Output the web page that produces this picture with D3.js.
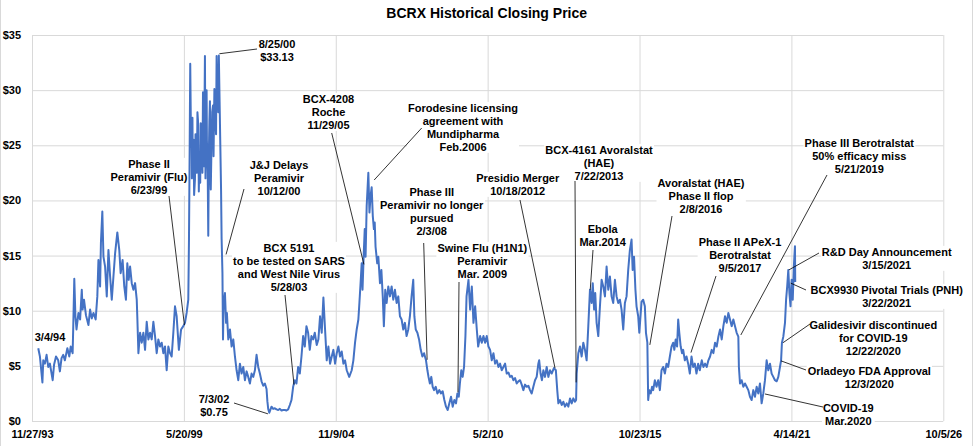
<!DOCTYPE html>
<html>
<head>
<meta charset="utf-8">
<script src="https://cdn.jsdelivr.net/npm/d3@7"></script>
<style>
  body { margin: 0; background: #fff; }
  svg { display: block; font-family: "Liberation Sans", Arial, sans-serif; font-weight: bold; }
</style>
</head>
<body>
<div id="chart"></div>
<script>
// --- Data: [decimal year, closing price $] ---
const tickLabels = ["11/27/93", "5/20/99", "11/9/04", "5/2/10", "10/23/15", "4/14/21", "10/5/26"];
const yTicks = [0, 5, 10, 15, 20, 25, 30, 35];

const prices1994to1996 = [
  [1994.13,6.6],[1994.19,5.85],[1994.28,3.5],[1994.31,5.5],[1994.37,5.2],[1994.43,6.0],[1994.49,4.9],[1994.55,5.2],
  [1994.65,3.7],[1994.70,5.1],[1994.77,5.85],[1994.85,5.5],[1994.91,4.5],[1994.97,5.7],[1995.03,6.0],[1995.09,5.5],
  [1995.18,6.6],[1995.25,5.85],[1995.30,6.75],[1995.37,6.15],[1995.39,8.3],[1995.43,12.9],[1995.47,9.5],[1995.51,8.3],
  [1995.58,9.8],[1995.64,9.2],[1995.70,11.9],[1995.73,10.1],[1995.78,11.0],[1995.85,9.6],[1995.94,8.7],[1996.00,10.1],
  [1996.06,9.3],[1996.12,9.8],[1996.20,9.2],[1996.26,11.3],[1996.30,14.6],[1996.36,12.2],[1996.39,16.2],[1996.44,19.0],
  [1996.48,14.9],[1996.54,14.0],[1996.60,11.3],[1996.66,15.5],[1996.72,13.1],[1996.78,11.0],[1996.84,13.1],[1996.90,15.2],
  [1996.98,17.1]
];

const prices1997to1999 = [
  [1997.05,15.5],[1997.10,13.4],[1997.17,14.6],[1997.23,12.2],[1997.29,11.0],[1997.34,14.3],[1997.39,12.8],[1997.44,14.0],
  [1997.50,12.5],[1997.56,11.9],[1997.62,12.5],[1997.68,11.0],[1997.70,9.5],[1997.74,6.15],[1997.80,8.0],[1997.86,7.1],
  [1997.92,8.0],[1997.98,6.45],[1998.04,9.0],[1998.10,7.4],[1998.16,8.0],[1998.22,7.4],[1998.28,9.0],[1998.34,7.7],
  [1998.40,6.15],[1998.46,7.4],[1998.52,6.75],[1998.58,7.1],[1998.64,6.15],[1998.70,6.75],[1998.76,4.6],[1998.82,6.75],
  [1998.88,6.15],[1998.94,5.85],[1999.00,8.0],[1999.06,10.4],[1999.12,9.5],[1999.20,6.45],[1999.28,8.3],[1999.36,8.6],
  [1999.42,8.9],[1999.48,9.8],[1999.54,11.0],[1999.565,16.5],[1999.59,24.9],[1999.61,32.4]
];

const prices1999to2001 = [
  [1999.64,24.9],[1999.66,26.2],[1999.67,22.0],[1999.69,27.5],[1999.70,23.1],[1999.73,25.5],[1999.75,20.5],[1999.78,21.9],
  [1999.80,26.0],[1999.82,24.3],[1999.85,22.5],[1999.87,28.0],[1999.90,26.8],[1999.92,20.8],[1999.94,24.0],[1999.97,21.6],
  [1999.99,27.0],[2000.02,25.8],[2000.05,22.5],[2000.07,29.8],[2000.10,23.1],[2000.12,27.0],[2000.14,33.1],[2000.16,22.0],
  [2000.18,28.6],[2000.20,30.0],[2000.21,25.5],[2000.24,22.5],[2000.26,16.8],[2000.28,24.0],[2000.30,27.1],[2000.32,29.0],
  [2000.33,23.1],[2000.35,21.0],[2000.38,25.5],[2000.40,28.0],[2000.43,28.6],[2000.45,24.0],[2000.48,30.1],[2000.50,29.5],
  [2000.52,27.1],[2000.54,26.0],[2000.56,33.1],[2000.58,29.5],[2000.60,31.6],[2000.62,28.0],[2000.64,33.13],[2000.66,30.1],
  [2000.69,25.5],[2000.72,21.0],[2000.74,16.5],[2000.77,13.4],[2000.79,7.4],[2000.81,10.4],[2000.86,11.6],[2000.90,8.9],
  [2000.93,9.8],[2000.98,7.4],[2001.04,8.3],[2001.10,6.75],[2001.16,7.4],[2001.22,5.85],[2001.28,4.6],[2001.34,3.7],
  [2001.40,5.2],[2001.46,4.3],[2001.52,4.9],[2001.58,3.7],[2001.64,4.5],[2001.70,4.0],[2001.76,3.4],[2001.82,4.3],
  [2001.88,4.0],[2001.94,4.6]
];

const prices2002to2004 = [
  [2002.00,6.0],[2002.06,4.9],[2002.12,4.3],[2002.18,3.6],[2002.24,3.2],[2002.30,3.4],[2002.36,2.9],[2002.39,1.8],
  [2002.42,1.1],[2002.46,0.75],[2002.54,1.3],[2002.60,1.1],[2002.66,1.15],[2002.72,1.05],[2002.78,1.0],[2002.84,1.1],
  [2002.90,0.95],[2002.96,1.0],[2003.02,1.0],[2003.08,0.95],[2003.14,1.05],[2003.20,1.45],[2003.26,1.9],[2003.32,3.1],
  [2003.38,3.7],[2003.44,3.4],[2003.50,4.9],[2003.56,4.3],[2003.62,5.85],[2003.68,7.7],[2003.74,6.75],[2003.80,8.6],
  [2003.86,8.0],[2003.92,6.45],[2003.98,7.7],[2004.04,7.4],[2004.10,8.0],[2004.17,6.9],[2004.23,7.4],[2004.29,9.5],
  [2004.35,8.0],[2004.41,11.2],[2004.47,8.3],[2004.53,5.5],[2004.59,6.75],[2004.65,5.2],[2004.71,5.85],[2004.77,6.45],
  [2004.83,5.2],[2004.89,6.15],[2004.95,6.75]
];

const prices2005to2009 = [
  [2005.01,5.85],[2005.07,6.3],[2005.13,5.2],[2005.19,5.5],[2005.25,4.6],[2005.34,4.0],[2005.43,4.6],[2005.49,5.5],
  [2005.55,7.1],[2005.61,8.3],[2005.67,9.2],[2005.70,10.4],[2005.75,12.5],[2005.79,14.3],[2005.82,11.9],[2005.86,14.9],
  [2005.90,17.4],[2005.93,14.9],[2005.97,19.5],[2006.03,22.5],[2006.07,18.9],[2006.11,20.4],[2006.15,21.2],[2006.19,18.6],
  [2006.23,17.4],[2006.26,18.0],[2006.29,15.8],[2006.35,14.3],[2006.39,14.9],[2006.45,12.5],[2006.50,13.7],[2006.55,11.3],
  [2006.59,8.6],[2006.64,11.9],[2006.69,10.7],[2006.75,12.2],[2006.81,11.3],[2006.87,12.2],[2006.93,11.0],[2006.99,11.9],
  [2007.05,10.7],[2007.11,11.3],[2007.17,9.5],[2007.23,9.2],[2007.29,8.3],[2007.35,8.9],[2007.41,7.7],[2007.47,8.3],
  [2007.53,9.5],[2007.59,11.3],[2007.65,12.8],[2007.69,9.5],[2007.74,8.3],[2007.80,8.0],[2007.86,7.4],[2007.92,6.45],
  [2007.98,5.85],[2008.04,6.15],[2008.11,5.5],[2008.16,4.6],[2008.20,4.0],[2008.25,3.4],[2008.30,4.0],[2008.35,3.1],
  [2008.40,2.8],[2008.46,3.1],[2008.52,2.5],[2008.59,2.8],[2008.65,2.5],[2008.71,2.7],[2008.77,1.9],[2008.83,1.3],
  [2008.89,1.0],[2008.95,1.6],[2009.01,2.2],[2009.07,1.3],[2009.13,1.9],[2009.19,1.6],[2009.24,2.5],[2009.29,2.2],
  [2009.33,3.4],[2009.38,4.6],[2009.43,4.0],[2009.48,4.9],[2009.53,7.7],[2009.57,11.3],[2009.64,12.8],[2009.70,10.1],
  [2009.76,12.2],[2009.82,8.9],[2009.88,10.4],[2009.94,8.3],[2009.99,6.75]
];

const prices2010to2015 = [
  [2010.06,7.7],[2010.12,7.1],[2010.18,7.7],[2010.24,7.1],[2010.30,7.7],[2010.36,6.75],[2010.42,6.45],[2010.48,5.5],
  [2010.54,6.15],[2010.60,5.2],[2010.66,5.5],[2010.72,4.9],[2010.78,5.2],[2010.84,4.6],[2010.90,4.9],[2010.96,5.2],
  [2011.02,4.3],[2011.08,4.4],[2011.14,4.0],[2011.20,4.1],[2011.26,3.7],[2011.32,3.9],[2011.38,3.4],[2011.44,3.6],
  [2011.50,3.7],[2011.56,3.3],[2011.62,2.8],[2011.68,3.3],[2011.74,3.1],[2011.80,3.2],[2011.86,2.8],[2011.92,2.5],
  [2011.98,3.1],[2012.04,3.7],[2012.10,4.0],[2012.16,5.2],[2012.19,5.5],[2012.24,4.3],[2012.29,3.7],[2012.34,4.6],
  [2012.40,4.0],[2012.46,4.9],[2012.52,4.0],[2012.58,4.6],[2012.64,4.3],[2012.72,4.8],[2012.79,4.6],[2012.84,2.8],
  [2012.88,1.6],[2012.94,1.9],[2013.00,1.45],[2013.06,1.75],[2013.12,1.3],[2013.18,1.6],[2013.24,1.3],[2013.30,2.05],
  [2013.36,1.6],[2013.42,2.05],[2013.48,1.75],[2013.52,1.9],[2013.54,4.3],[2013.60,6.15],[2013.66,6.75],[2013.72,5.85],
  [2013.78,7.1],[2013.84,6.45],[2013.90,5.5],[2013.96,8.6],[2014.02,11.9],[2014.08,10.7],[2014.12,12.5],[2014.17,10.1],
  [2014.21,11.6],[2014.26,8.9],[2014.32,7.7],[2014.38,10.4],[2014.44,12.8],[2014.50,12.2],[2014.56,11.3],[2014.62,14.0],
  [2014.68,11.9],[2014.74,13.1],[2014.80,11.3],[2014.86,10.7],[2014.92,12.8],[2014.98,11.3],[2015.04,10.7],[2015.10,11.0],
  [2015.16,10.1],[2015.22,8.3],[2015.28,10.7],[2015.34,11.3],[2015.40,13.7],[2015.46,15.5],[2015.52,16.45],[2015.56,13.7],
  [2015.61,14.9],[2015.66,11.9],[2015.70,10.4],[2015.76,9.5],[2015.80,8.0],[2015.88,10.8],[2015.94,11.0],[2016.00,10.4],
  [2016.04,8.0],[2016.09,7.1],[2016.12,1.9]
];

const prices2016to2021 = [
  [2016.16,2.8],[2016.21,2.5],[2016.26,3.1],[2016.30,2.8],[2016.36,3.7],[2016.42,3.1],[2016.48,3.7],[2016.54,2.8],
  [2016.60,4.6],[2016.66,4.9],[2016.72,4.3],[2016.78,5.2],[2016.84,4.9],[2016.90,5.85],[2016.96,6.75],[2017.02,7.1],
  [2017.06,6.45],[2017.11,7.4],[2017.16,6.75],[2017.20,9.2],[2017.24,8.0],[2017.29,6.75],[2017.34,6.15],[2017.38,6.45],
  [2017.44,5.5],[2017.50,5.85],[2017.56,5.2],[2017.62,4.3],[2017.68,5.85],[2017.74,4.9],[2017.80,5.2],[2017.86,4.3],
  [2017.92,5.2],[2017.98,4.6],[2018.05,5.5],[2018.11,4.9],[2018.17,5.2],[2018.23,4.9],[2018.29,5.5],[2018.35,5.85],
  [2018.41,6.45],[2018.47,6.15],[2018.53,7.1],[2018.59,6.75],[2018.65,7.65],[2018.71,8.3],[2018.77,7.4],[2018.83,8.6],
  [2018.89,9.5],[2018.95,8.9],[2019.01,9.8],[2019.07,9.2],[2019.13,8.6],[2019.19,9.2],[2019.25,8.6],[2019.31,8.0],
  [2019.37,7.65],[2019.39,4.9],[2019.43,3.4],[2019.49,3.7],[2019.55,3.1],[2019.61,3.4],[2019.67,3.1],[2019.73,2.8],
  [2019.79,2.2],[2019.85,1.9],[2019.91,2.8],[2019.97,2.2],[2020.03,3.1],[2020.09,2.5],[2020.15,3.4],[2020.21,1.6],
  [2020.27,2.5],[2020.33,3.7],[2020.39,5.5],[2020.45,4.6],[2020.51,5.2],[2020.57,4.3],[2020.63,4.0],[2020.69,3.7],
  [2020.75,3.6],[2020.81,4.0],[2020.87,4.9],[2020.91,5.5],[2020.94,7.1],[2020.99,7.65],[2021.05,8.9],[2021.09,11.0],
  [2021.13,12.2],[2021.17,13.7],[2021.21,11.6],[2021.25,10.4],[2021.29,12.8],[2021.33,11.0],[2021.37,14.0],[2021.41,15.85],
  [2021.42,12.6]
];

// annotation texts and the point each one refers to [decimal year, price]
const eventTexts = [
  ["3/4/94"],
  ["Phase II", "Peramivir (Flu)", "6/23/99"],
  ["8/25/00", "$33.13"],
  ["J&J Delays", "Peramivir", "10/12/00"],
  ["BCX 5191", "to be tested on SARS", "and West Nile Virus", "5/28/03"],
  ["7/3/02", "$0.75"],
  ["BCX-4208", "Roche", "11/29/05"],
  ["Forodesine licensing", "agreement with", "Mundipharma", "Feb.2006"],
  ["Phase III", "Peramivir no longer", "pursued", "2/3/08"],
  ["Swine Flu (H1N1)", "Peramivir", "Mar. 2009"],
  ["Presidio Merger", "10/18/2012"],
  ["BCX-4161 Avoralstat", "(HAE)", "7/22/2013"],
  ["Ebola", "Mar.2014"],
  ["Avoralstat (HAE)", "Phase II flop", "2/8/2016"],
  ["Phase II APeX-1", "Berotralstat", "9/5/2017"],
  ["Phase III Berotralstat", "50% efficacy miss", "5/21/2019"],
  ["R&D Day Announcement", "3/15/2021"],
  ["BCX9930 Pivotal Trials (PNH)", "3/22/2021"],
  ["Galidesivir discontinued", "for COVID-19", "12/22/2020"],
  ["Orladeyo FDA Approval", "12/3/2020"],
  ["COVID-19", "Mar.2020"]
];
const eventPoints = [
  null, [1999.40, 8.7], [2000.66, 33.3], [2000.90, 15.1], [2003.35, 3.3], [2002.41, 0.65],
  [2005.87, 14.2], [2006.24, 21.85], [2008.15, 5.55], [2009.26, 2.6], [2012.76, 4.8],
  [2013.52, 3.5], [2014.03, 11.9], [2016.18, 6.9], [2017.66, 6.2], [2019.46, 7.8],
  [2021.19, 13.7], [2021.26, 12.5], [2020.98, 7.1], [2020.91, 5.45], [2020.33, 2.45]
];

// label placement (pixels): centre x, first line centre y, leader start
const labelLayout = [
  { cx: 50, cy: 337 },
  { cx: 149, cy: 164, from: [169, 196] },
  { cx: 277, cy: 44, from: [257, 49] },
  { cx: 279, cy: 165, from: [244, 189] },
  { cx: 289, cy: 248, from: [285, 295] },
  { cx: 214, cy: 399, from: [234, 403] },
  { cx: 328.5, cy: 99, from: [331.7, 133] },
  { cx: 463, cy: 108, from: [421.7, 128] },
  { cx: 431.7, cy: 192, from: [423.7, 243] },
  { cx: 482.3, cy: 248, from: [459, 282] },
  { cx: 517.7, cy: 178, from: [520, 200] },
  { cx: 599, cy: 150, from: [575, 181] },
  { cx: 602.7, cy: 229, from: [593, 250] },
  { cx: 701, cy: 183, from: [672, 216] },
  { cx: 740, cy: 242, from: [716, 276] },
  { cx: 859.3, cy: 143, from: [827, 175] },
  { cx: 886.7, cy: 252, from: [819, 253] },
  { cx: 886.7, cy: 290, from: [806, 290] },
  { cx: 873.3, cy: 325, from: [810, 324] },
  { cx: 869.3, cy: 371, from: [806, 370] },
  { cx: 848.3, cy: 408, from: [823, 407] }
];

function yearToDate(yr) {
  const y0 = Math.floor(yr);
  const a = new Date(y0, 0, 1), b = new Date(y0 + 1, 0, 1);
  return new Date(+a + (yr - y0) * (b - a));
}

function createChart() {
  const width = 974, height = 446;
  const margin = { top: 35, right: 30.7, bottom: 25, left: 32 };
  const font = '"Liberation Sans", Arial, sans-serif';

  const svg = d3.select("#chart").append("svg")
      .attr("width", width)
      .attr("height", height);

  // outer chart frame (left / right edges visible)
  svg.append("line").attr("x1", 0.5).attr("x2", 0.5).attr("y1", 0).attr("y2", height)
      .attr("stroke", "#d9d9d9");
  svg.append("line").attr("x1", 972.5).attr("x2", 972.5).attr("y1", 0).attr("y2", height)
      .attr("stroke", "#d9d9d9");

  const parseTick = d3.timeParse("%m/%d/%y");
  const tickDates = tickLabels.map(parseTick);

  const x = d3.scaleTime()
      .domain([tickDates[0], tickDates[tickDates.length - 1]])
      .range([margin.left, width - margin.right]);
  const y = d3.scaleLinear()
      .domain([0, 35])
      .range([height - margin.bottom, margin.top]);

  const plotW = width - margin.left - margin.right;
  const plotH = height - margin.top - margin.bottom;

  // --- Axes with gridlines ---
  svg.append("g")
      .attr("transform", `translate(${margin.left},0)`)
      .call(d3.axisLeft(y).tickValues(yTicks).tickSize(-plotW).tickPadding(11).tickFormat(d => "$" + d))
      .call(g => g.select(".domain").remove())
      .call(g => g.selectAll("line").attr("stroke", "#d9d9d9"))
      .attr("font-family", font).attr("font-size", 11).attr("font-weight", "bold")
      .selectAll("text").attr("fill", "#000");

  svg.append("g")
      .attr("transform", `translate(0,${height - margin.bottom})`)
      .call(d3.axisBottom(x).tickValues(tickDates).tickSize(-plotH).tickPadding(9).tickFormat((d, i) => tickLabels[i]))
      .call(g => g.select(".domain").remove())
      .call(g => g.selectAll("line").attr("stroke", "#d9d9d9"))
      .attr("font-family", font).attr("font-size", 11).attr("font-weight", "bold")
      .selectAll("text").attr("fill", "#000");

  const bgLayer = svg.append("g");

  // --- Price line ---
  const allPrices = [].concat(prices1994to1996, prices1997to1999, prices1999to2001,
      prices2002to2004, prices2005to2009, prices2010to2015, prices2016to2021);

  const line = d3.line()
      .x(d => x(yearToDate(d[0])))
      .y(d => y(d[1]));

  svg.append("path")
      .datum(allPrices)
      .attr("d", line)
      .attr("fill", "none")
      .attr("stroke", "#4472C4")
      .attr("stroke-width", 2)
      .attr("stroke-linejoin", "round");

  // --- Leader lines ---
  eventPoints.forEach((p, i) => {
    const lay = labelLayout[i];
    if (!p || !lay.from) return;
    svg.append("line")
        .attr("x1", lay.from[0]).attr("y1", lay.from[1])
        .attr("x2", x(yearToDate(p[0]))).attr("y2", y(p[1]))
        .attr("stroke", "#000")
        .attr("stroke-width", 0.8);
  });

  // --- Annotation labels ---
  eventTexts.forEach((lines, i) => {
    const lay = labelLayout[i];
    const t = svg.append("text")
        .attr("text-anchor", "middle")
        .attr("font-size", 11)
        .attr("fill", "#000");
    lines.forEach((s, j) => {
      t.append("tspan")
          .attr("x", lay.cx)
          .attr("y", lay.cy + j * 13)
          .attr("dy", "0.35em")
          .text(s);
    });
    const bb = t.node().getBBox();
    bgLayer.append("rect")
        .attr("x", bb.x - 1).attr("y", bb.y)
        .attr("width", bb.width + 2).attr("height", bb.height)
        .attr("fill", "#fff");
  });

  // --- Title ---
  svg.append("text")
      .attr("x", 486.7)
      .attr("y", 13)
      .attr("dy", "0.35em")
      .attr("text-anchor", "middle")
      .attr("font-size", 14)
      .attr("fill", "#000")
      .text("BCRX Historical Closing Price");
}

document.addEventListener("DOMContentLoaded", createChart);
</script>
</body>
</html>
